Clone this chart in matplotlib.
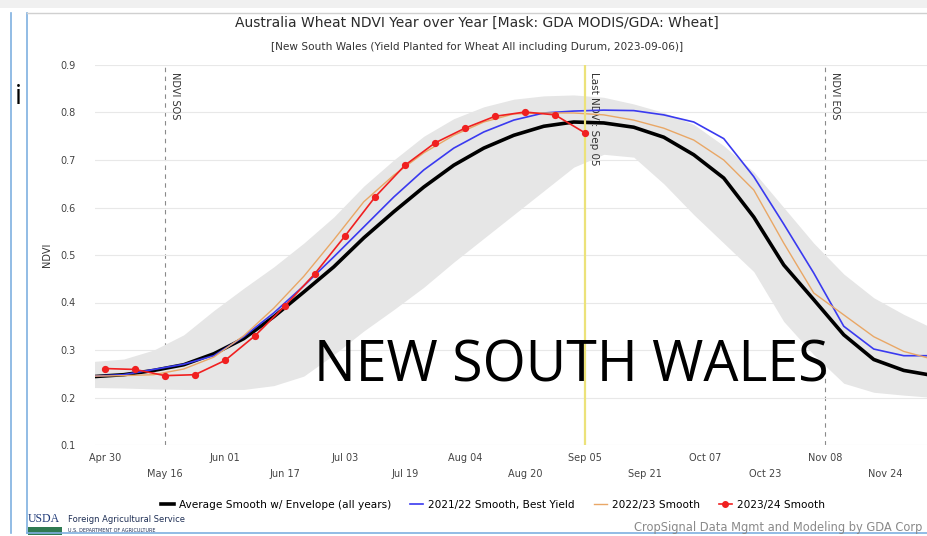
import pandas as pd
import matplotlib.pyplot as plt
from matplotlib.lines import Line2D
from matplotlib.patches import Rectangle

W, H = 927, 536

# 8-day sample dates for the smooth series and the envelope
GRID_DATES = pd.date_range('2023-04-27', periods=29, freq='8D')

AVG_SMOOTH = [0.244, 0.248, 0.257, 0.269, 0.292, 0.324, 0.370, 0.422, 0.475, 0.536,
              0.591, 0.643, 0.689, 0.725, 0.752, 0.771, 0.780, 0.778, 0.769, 0.748,
              0.711, 0.662, 0.580, 0.479, 0.406, 0.332, 0.280, 0.257, 0.246]
ENV_UPPER = [0.276, 0.281, 0.300, 0.332, 0.383, 0.430, 0.475, 0.525, 0.580, 0.645,
             0.700, 0.750, 0.787, 0.812, 0.828, 0.835, 0.837, 0.832, 0.818, 0.800,
             0.775, 0.730, 0.675, 0.600, 0.525, 0.460, 0.410, 0.375, 0.345]
ENV_LOWER = [0.221, 0.220, 0.218, 0.217, 0.217, 0.217, 0.225, 0.245, 0.290, 0.340,
             0.385, 0.432, 0.485, 0.535, 0.585, 0.635, 0.685, 0.712, 0.706, 0.650,
             0.585, 0.525, 0.465, 0.360, 0.290, 0.230, 0.211, 0.205, 0.200]
SMOOTH_2122 = [0.245, 0.248, 0.259, 0.270, 0.288, 0.328, 0.378, 0.435, 0.496, 0.559,
               0.622, 0.679, 0.725, 0.759, 0.784, 0.799, 0.803, 0.805, 0.804, 0.795,
               0.780, 0.745, 0.665, 0.565, 0.462, 0.350, 0.302, 0.288, 0.288]
SMOOTH_2223 = [0.245, 0.246, 0.248, 0.260, 0.285, 0.330, 0.388, 0.455, 0.532, 0.612,
               0.668, 0.715, 0.752, 0.780, 0.797, 0.799, 0.799, 0.795, 0.784, 0.767,
               0.742, 0.700, 0.637, 0.525, 0.420, 0.374, 0.328, 0.297, 0.280]

# 2023/24 observations, every 8 days up to the last image
DATES_2324 = pd.date_range('2023-04-30', '2023-09-05', freq='8D')
SMOOTH_2324 = [0.261, 0.259, 0.246, 0.248, 0.278, 0.330, 0.393, 0.461, 0.540, 0.622,
               0.689, 0.736, 0.767, 0.792, 0.801, 0.795, 0.757]

TICK_DATES = pd.date_range('2023-04-30', periods=14, freq='16D')
SOS_DATE = pd.Timestamp('2023-05-16')
EOS_DATE = pd.Timestamp('2023-11-08')
LAST_DATE = pd.Timestamp('2023-09-05')
Y_TICKS = [0.1, 0.2, 0.3, 0.4, 0.5, 0.6, 0.7, 0.8, 0.9]

fig = plt.figure(figsize=(W / 100, H / 100), dpi=100)
fig.patch.set_facecolor('white')

ax = fig.add_axes([95 / W, 1 - 445 / H, (W - 95) / W, 380 / H])
ax.set_facecolor('none')
for s in ax.spines.values():
    s.set_visible(False)

ax.fill_between(GRID_DATES, ENV_LOWER, ENV_UPPER, color='#e6e6e6', lw=0, zorder=2)
ax.axvline(SOS_DATE, color='#8a8a8a', ls=(0, (4, 4)), lw=0.8, zorder=1)
ax.axvline(EOS_DATE, color='#8a8a8a', ls=(0, (4, 4)), lw=0.8, zorder=1)
ax.axvline(LAST_DATE, color='#ece27a', lw=1.6, zorder=6)

ax.text(SOS_DATE + pd.Timedelta(days=1.2), 0.885, 'NDVI SOS', rotation=270, va='top', ha='left',
        fontsize=7, color='#333333', zorder=3)
ax.text(EOS_DATE + pd.Timedelta(days=1.2), 0.885, 'NDVI EOS', rotation=270, va='top', ha='left',
        fontsize=7, color='#333333', zorder=3)
ax.text(LAST_DATE + pd.Timedelta(days=1.0), 0.885, 'Last NDVI: Sep 05', rotation=270, va='top',
        ha='left', fontsize=7.5, color='#333333', zorder=3)

ax.plot(GRID_DATES, AVG_SMOOTH, color='black', lw=2.6, zorder=5)
ax.plot(GRID_DATES, SMOOTH_2122, color='#3a3af0', lw=1.2, zorder=5)
ax.plot(GRID_DATES, SMOOTH_2223, color='#e9a766', lw=1.0, zorder=5)
ax.plot(DATES_2324, SMOOTH_2324, color='#f02020', lw=1.2, marker='o', ms=4.2, zorder=7)

ax.set_ylim(0.1, 0.9)
ax.set_xlim(pd.Timestamp('2023-04-30') - pd.Timedelta(days=2.67),
            pd.Timestamp('2023-04-30') + pd.Timedelta(days=219.2))
ax.set_yticks(Y_TICKS)
ax.set_yticklabels([f'{v:.1f}' for v in Y_TICKS], fontsize=7, color='#444444')
ax.set_xticks(TICK_DATES)
ax.set_xticklabels([d.strftime('%b %d') if i % 2 == 0 else '\n' + d.strftime('%b %d')
                    for i, d in enumerate(TICK_DATES)], fontsize=7, color='#444444',
                   linespacing=1.7)
ax.tick_params(length=0)
ax.tick_params(axis='x', pad=6)
ax.tick_params(axis='y', pad=14)
ax.grid(axis='y', color='#e8e8e8', lw=0.8, zorder=0)
ax.set_ylabel('NDVI', fontsize=7, color='#333333', labelpad=6)

fig.text(571 / W, 1 - 367 / H, 'NEW SOUTH WALES', ha='center', va='center',
         fontsize=40, family='Open Sans', color='black', zorder=10)

fig.text(477 / W, 1 - 23 / H, 'Australia Wheat NDVI Year over Year [Mask: GDA MODIS/GDA: Wheat]',
         ha='center', va='center', fontsize=10, color='#2b2b2b')
fig.text(477 / W, 1 - 47 / H,
         '[New South Wales (Yield Planted for Wheat All including Durum, 2023-09-06)]',
         ha='center', va='center', fontsize=7.6, color='#333333')

handles = [Line2D([], [], color='black', lw=2.6),
           Line2D([], [], color='#3a3af0', lw=1.2),
           Line2D([], [], color='#e9a766', lw=1.0),
           Line2D([], [], color='#f02020', lw=1.2, marker='o', ms=4)]
labels = ['Average Smooth w/ Envelope (all years)', '2021/22 Smooth, Best Yield',
          '2022/23 Smooth', '2023/24 Smooth']
fig.legend(handles, labels, loc='center', bbox_to_anchor=(493 / W, 1 - 505 / H), ncol=4,
           frameon=False, fontsize=7.6, handlelength=1.2, handletextpad=0.5, columnspacing=1.8)

# slide frame around the chart
fig.add_artist(Rectangle((0, 1 - 8 / H), 1, 8 / H, transform=fig.transFigure,
                         color='#f0f0f0', lw=0))
fig.add_artist(Line2D([27 / W, 27 / W], [1 - 13 / H, 1 - 533 / H], transform=fig.transFigure,
                      color='#7fb0e0', lw=1.2))
fig.add_artist(Line2D([11 / W, 11 / W], [1 - 13 / H, 1 - 533 / H], transform=fig.transFigure,
                      color='#7fb0e0', lw=1.2))
fig.add_artist(Line2D([27 / W, 1], [1 - 13 / H, 1 - 13 / H], transform=fig.transFigure,
                      color='#d0d0d0', lw=1.0))
fig.add_artist(Line2D([27 / W, 1], [1 - 533 / H, 1 - 533 / H], transform=fig.transFigure,
                      color='#7fb0e0', lw=1.2))
fig.text(15 / W, 1 - 97 / H, 'i', fontsize=20, family='Open Sans', va='center', ha='left')

# footer
fig.text(28 / W, 1 - 519 / H, 'USDA', fontsize=8.5, family='Liberation Serif', color='#1f3a78',
         va='center', ha='left')
fig.add_artist(Rectangle((28 / W, 1 - 535 / H), 34 / W, 8 / H, transform=fig.transFigure,
                         color='#2f7a52', lw=0))
fig.text(68 / W, 1 - 520 / H, 'Foreign Agricultural Service', fontsize=6, color='#1f2f55',
         va='center', ha='left')
fig.text(68 / W, 1 - 530 / H, 'U.S. DEPARTMENT OF AGRICULTURE', fontsize=3.5, color='#1f2f55',
         va='center', ha='left')
fig.text(922 / W, 1 - 527 / H, 'CropSignal Data Mgmt and Modeling by GDA Corp', fontsize=8.3,
         color='#8a8a8a', va='center', ha='right')

fig.savefig('out.png', dpi=100)
